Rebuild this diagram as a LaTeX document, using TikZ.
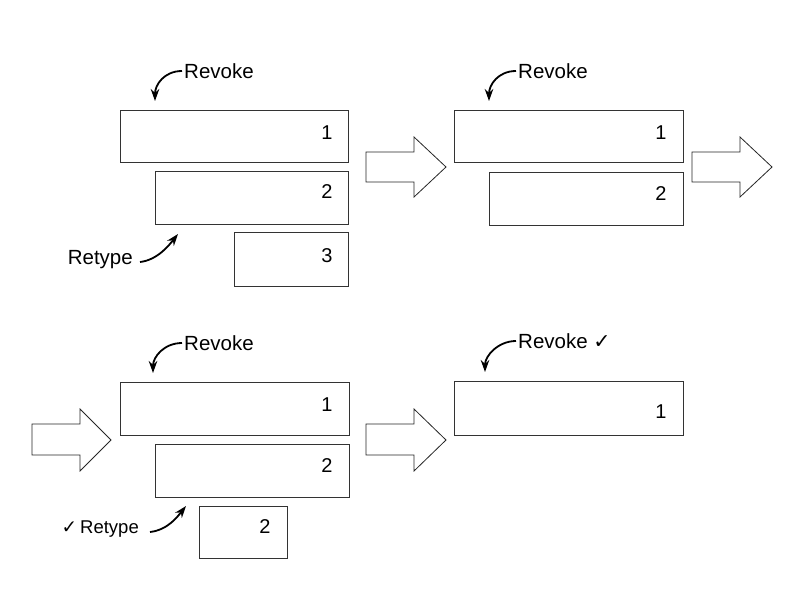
\documentclass[tikz,border=0pt]{standalone}
\usepackage{fontspec}
\setmainfont{Liberation Sans}
\newfontfamily\symfont{DejaVu Sans}
\usetikzlibrary{arrows.meta}
\newcommand{\ck}{{\symfont\bfseries\char"2713}}
\begin{document}
\begin{tikzpicture}[x=1pt,y=-1pt,
  box/.style={draw=black!80,line width=1pt,anchor=north west,inner sep=0pt,fill=white},
  num/.style={inner sep=0pt,font=\fontsize{20}{23}\selectfont},
  lbl/.style={inner sep=0pt,font=\fontsize{20.5}{24}\selectfont},
  slbl/.style={inner sep=0pt,font=\fontsize{18.5}{21}\selectfont},
  curv/.style={line width=1.8pt,-{Stealth[length=12pt,width=8.5pt]}},
  blk/.style={draw=black!85,line width=0.8pt,fill=white,line join=miter}]
\useasboundingbox (0,0) rectangle (800,600);
% ---------- panel 1 ----------
\node[box,minimum width=228pt,minimum height=52pt] (b1) at (120,110) {};
\node[box,minimum width=193pt,minimum height=53pt] (b2) at (155,171) {};
\node[box,minimum width=114pt,minimum height=54pt] (b3) at (234,232) {};
\node[num] (n1) at ([xshift=-22pt,yshift=4pt]b1.east) {1};
\node[num] (n2) at ([xshift=-22pt,yshift=6pt]b2.east) {2};
\node[num] (n3) at ([xshift=-22pt,yshift=4pt]b3.east) {3};
\node[lbl,anchor=west] (rv1) at (184,71) {Revoke};
\coordinate (t1) at (155,101);
\draw[curv] ([xshift=-2pt]rv1.west) .. controls +(-18,0) and +(0,-16) .. (t1);
\node[lbl,anchor=east] (rt1) at (133,260) {Retype};
\coordinate (t2) at (178,234);
\draw[curv] ([xshift=7pt,yshift=-2pt]rt1.east) .. controls +(18,-2) and +(-8,10) .. (t2);
% block arrow 1
\draw[blk] (366,152) -- (414,152) -- (414,137) -- (446,167) -- (414,197) -- (414,182) -- (366,182) -- cycle;
% ---------- panel 2 ----------
\node[box,minimum width=229pt,minimum height=52pt] (c1) at (454,110) {};
\node[box,minimum width=194pt,minimum height=53pt] (c2) at (489,172) {};
\node[num] (m1) at ([xshift=-23pt,yshift=4pt]c1.east) {1};
\node[num] (m2) at ([xshift=-23pt,yshift=5pt]c2.east) {2};
\node[lbl,anchor=west] (rv2) at (518,71) {Revoke};
\coordinate (t3) at (489,101);
\draw[curv] ([xshift=-2pt]rv2.west) .. controls +(-18,0) and +(0,-16) .. (t3);
% block arrow 2
\draw[blk] (692,152) -- (740,152) -- (740,137) -- (772,167) -- (740,197) -- (740,182) -- (692,182) -- cycle;
% ---------- panel 3 ----------
\draw[blk] (32,424) -- (80,424) -- (80,409) -- (111,440) -- (80,471) -- (80,455) -- (32,455) -- cycle;
\node[box,minimum width=229pt,minimum height=53pt] (d1) at (120,382) {};
\node[box,minimum width=194pt,minimum height=53pt] (d2) at (155,444) {};
\node[box,minimum width=88pt,minimum height=52pt] (d3) at (199,506) {};
\node[num] (p1) at ([xshift=-23pt,yshift=4pt]d1.east) {1};
\node[num] (p2) at ([xshift=-23pt,yshift=5pt]d2.east) {2};
\node[num] (p3) at ([xshift=-23pt,yshift=6pt]d3.east) {2};
\node[lbl,anchor=west] (rv3) at (184,343) {Revoke};
\coordinate (t4) at (153,373);
\draw[curv] ([xshift=-2pt]rv3.west) .. controls +(-18,0) and +(0,-16) .. (t4);
\node[slbl,anchor=east] (rt2) at (139,529) {\ck\,Retype};
\coordinate (t5) at (186,506);
\draw[curv] ([xshift=11pt,yshift=-3pt]rt2.east) .. controls +(18,-2) and +(-8,10) .. (t5);
% block arrow 4
\draw[blk] (366,424) -- (414,424) -- (414,409) -- (446,440) -- (414,471) -- (414,455) -- (366,455) -- cycle;
% ---------- panel 4 ----------
\node[box,minimum width=229pt,minimum height=54pt] (e1) at (454,381) {};
\node[num] (q1) at ([xshift=-23pt,yshift=-3pt]e1.east) {1};
\node[lbl,anchor=west] (rv4) at (518,341) {Revoke \ck};
\coordinate (t6) at (485,372);
\draw[curv] ([xshift=-2pt]rv4.west) .. controls +(-18,0) and +(0,-16) .. (t6);
\end{tikzpicture}
\end{document}
